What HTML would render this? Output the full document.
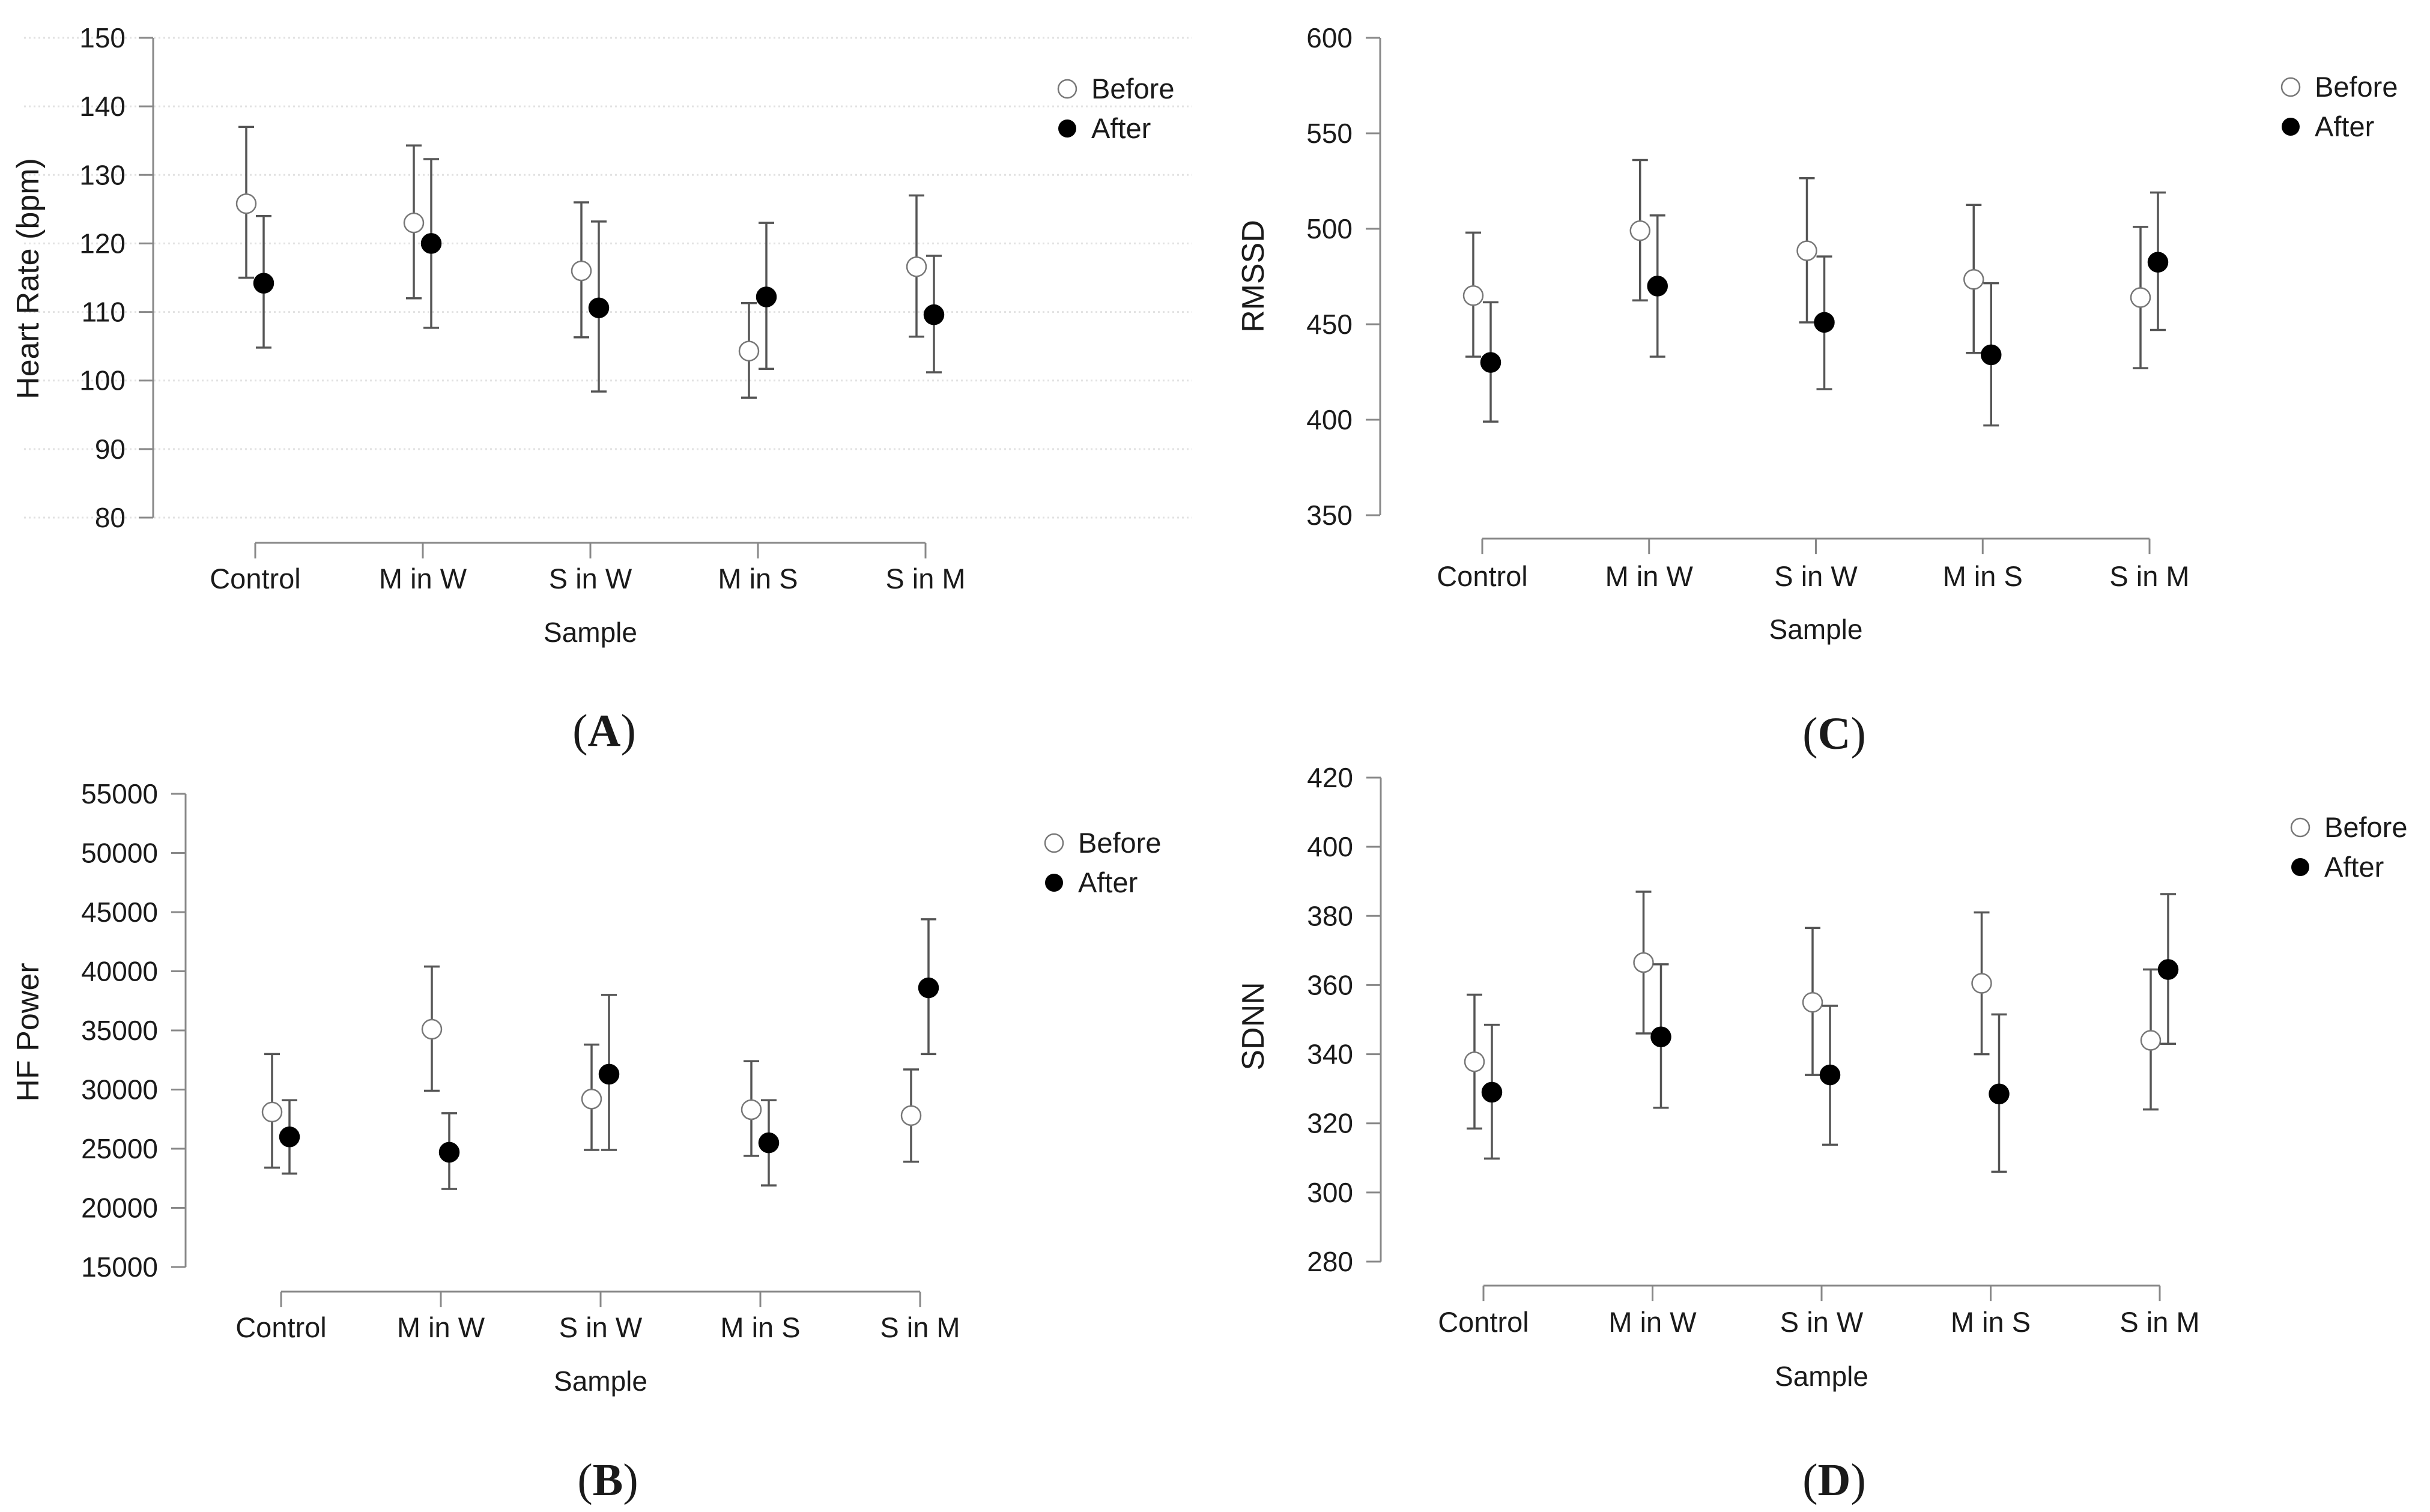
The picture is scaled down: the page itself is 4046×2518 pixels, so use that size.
<!DOCTYPE html>
<html><head><meta charset="utf-8"><style>
html,body{margin:0;padding:0;background:#fff}
svg{display:block}
text{font-family:"Liberation Sans",Arial,sans-serif;fill:#1a1a1a}
.cap{font-family:"Liberation Serif",serif;font-size:76px}
</style></head><body>
<svg id="fig" width="4046" height="2518" viewBox="0 0 4046 2518" xmlns="http://www.w3.org/2000/svg"></svg>
<script>
const categories = ["Control","M in W","S in W","M in S","S in M"];
// Panel A: Heart Rate
const aTicks = [80,90,100,110,120,130,140,150];
const aBefore = [125.8,123,116,104.3,116.6];
const aBeforeLo = [115,112,106.3,97.5,106.4];
const aBeforeHi = [137,134.3,126,111.3,127];
const aAfter = [114.2,120,110.6,112.2,109.6];
const aAfterLo = [104.8,107.7,98.4,101.7,101.2];
const aAfterHi = [124,132.3,123.2,123,118.2];
// Panel B: HF Power
const bTicks = [15000,20000,25000,30000,35000,40000,45000,50000,55000];
const bBefore = [28100,35100,29200,28300,27800];
const bBeforeLo = [23400,29900,24900,24400,23900];
const bBeforeHi = [33000,40400,33800,32400,31700];
const bAfter = [26000,24700,31300,25500,38600];
const bAfterLo = [22900,21600,24900,21900,33000];
const bAfterHi = [29100,28000,38000,29100,44400];
// Panel C: RMSSD
const cTicks = [350,400,450,500,550,600];
const cBefore = [465,499,488.5,473.5,464];
const cBeforeLo = [433,462.5,451,435,427];
const cBeforeHi = [498,536,526.5,512.5,501];
const cAfter = [430,470,451,434,482.5];
const cAfterLo = [399,433,416,397,447];
const cAfterHi = [461.5,507,485.5,471.5,519];
// Panel D: SDNN
const dTicks = [280,300,320,340,360,380,400,420];
const dBefore = [337.8,366.5,355,360.5,344];
const dBeforeLo = [318.5,346,334,340,324];
const dBeforeHi = [357.2,387,376.5,381,364.5];
const dAfter = [329,345,334,328.5,364.5];
const dAfterLo = [309.8,324.5,313.8,306,343];
const dAfterHi = [348.5,366,354,351.5,386.3];

const NS="http://www.w3.org/2000/svg";
const svg=document.getElementById('fig');
function mk(tag,attrs,parent,txt){const e=document.createElementNS(NS,tag);for(const k in attrs)e.setAttribute(k,attrs[k]);if(txt!==undefined)e.textContent=txt;(parent||svg).appendChild(e);return e;}

function panel(p){
  const g=mk('g',{});
  
  
  const tmin=p.ticks[0], tmax=p.ticks[p.ticks.length-1];
  const y=v=>p.yBot+(v-tmin)/(tmax-tmin)*(p.yTop-p.yBot);
  const x=i=>p.x0+i*(p.x1-p.x0)/(categories.length-1);
  if(p.hgrid){
    p.ticks.forEach(t=>{const l=mk('line',{x1:p.gx0,x2:p.gx1,y1:y(t),y2:y(t),stroke:'#e2e2e2','stroke-width':3,'stroke-dasharray':'3 5'},g);
      
      });
  }
  const ya=mk('line',{x1:p.ax,x2:p.ax,y1:p.yTop,y2:p.yBot,stroke:'#888','stroke-width':3},g);
  
  
  p.ticks.forEach(t=>{
    mk('line',{x1:p.ax-24,x2:p.ax,y1:y(t),y2:y(t),stroke:'#888','stroke-width':3},g);
    const tl=mk('text',{x:p.ax-46,y:y(t)+16,'text-anchor':'end','font-size':46},g,String(t));
    
    
  });
  const yt=mk('text',{x:0,y:0,'text-anchor':'middle','font-size':52,transform:`translate(${p.ytx+6},${p.yty}) rotate(-90)`},g,p.ytitle);
  
  
  const xa=mk('line',{x1:x(0),x2:x(4),y1:p.xAxisY,y2:p.xAxisY,stroke:'#888','stroke-width':3},g);
  
  
  categories.forEach((c,i)=>{
    mk('line',{x1:x(i),x2:x(i),y1:p.xAxisY,y2:p.xAxisY+26,stroke:'#888','stroke-width':3},g);
    const t=mk('text',{x:x(i),y:p.labY,'text-anchor':'middle','font-size':47},g,c);
    
    
  });
  const xt=mk('text',{x:(x(0)+x(4))/2,y:p.sampY,'text-anchor':'middle','font-size':46},g,'Sample');
  
  
  const series=[[p.before,p.bLo,p.bHi,-15,'#fff','before'],[p.after,p.aLo,p.aHi,14,'#000','after']];
  series.forEach(s=>{
    s[0].forEach((v,i)=>{
      const cx=x(i)+s[3];
      const eb=mk('path',{d:`M${cx},${y(s[1][i])}V${y(s[2][i])}M${cx-13},${y(s[1][i])}H${cx+13}M${cx-13},${y(s[2][i])}H${cx+13}`,stroke:'#555','stroke-width':3.5,fill:'none'},g);
      
      
      const c=mk('circle',{cx:cx,cy:y(v),r:16,fill:s[4],stroke:s[5]==='before'?'#777':'#000','stroke-width':2.5},g);
      
      
    });
  });
  const l1=mk('circle',{cx:p.lgx,cy:p.lgy,r:15,fill:'#fff',stroke:'#777','stroke-width':2.5},g);
  
  
  const lt1=mk('text',{x:p.lgx+40,y:p.lgy+16,'font-size':47},g,'Before');
  
  
  const l2=mk('circle',{cx:p.lgx,cy:p.lgy+66,r:15,fill:'#000'},g);
  
  
  const lt2=mk('text',{x:p.lgx+40,y:p.lgy+82,'font-size':47},g,'After');
  
  
  const cap=mk('text',{x:p.capx,y:p.capy,'text-anchor':'middle',class:'cap'},g);
  
  
  mk('tspan',{},cap,'(');
  mk('tspan',{'font-weight':'bold'},cap,p.id.toUpperCase());
  mk('tspan',{},cap,')');
}

panel({id:'a',ticks:aTicks,before:aBefore,bLo:aBeforeLo,bHi:aBeforeHi,after:aAfter,aLo:aAfterLo,aHi:aAfterHi,
  ax:255,yTop:63,yBot:862,x0:425,x1:1541,xAxisY:904,labY:980,sampY:1069,ytitle:'Heart Rate (bpm)',ytx:58,yty:464,
  lgx:1777,lgy:148,capx:1006,capy:1242,hgrid:true,gx0:40,gx1:1985});
panel({id:'b',ticks:bTicks,before:bBefore,bLo:bBeforeLo,bHi:bBeforeHi,after:bAfter,aLo:bAfterLo,aHi:bAfterHi,
  ax:309,yTop:1322,yBot:2110,x0:468,x1:1532,xAxisY:2151,labY:2227,sampY:2316,ytitle:'HF Power',ytx:58,yty:1719,
  lgx:1755,lgy:1404,capx:1012,capy:2490});
panel({id:'c',ticks:cTicks,before:cBefore,bLo:cBeforeLo,bHi:cBeforeHi,after:cAfter,aLo:cAfterLo,aHi:cAfterHi,
  ax:2298,yTop:63,yBot:858,x0:2468,x1:3579,xAxisY:897,labY:976,sampY:1064,ytitle:'RMSSD',ytx:2098,yty:460,
  lgx:3814,lgy:145,capx:3054,capy:1247});
panel({id:'d',ticks:dTicks,before:dBefore,bLo:dBeforeLo,bHi:dBeforeHi,after:dAfter,aLo:dAfterLo,aHi:dAfterHi,
  ax:2299,yTop:1295,yBot:2101,x0:2470,x1:3596,xAxisY:2141,labY:2218,sampY:2308,ytitle:'SDNN',ytx:2098,yty:1709,
  lgx:3830,lgy:1378,capx:3054,capy:2490});
</script>
</body></html>
